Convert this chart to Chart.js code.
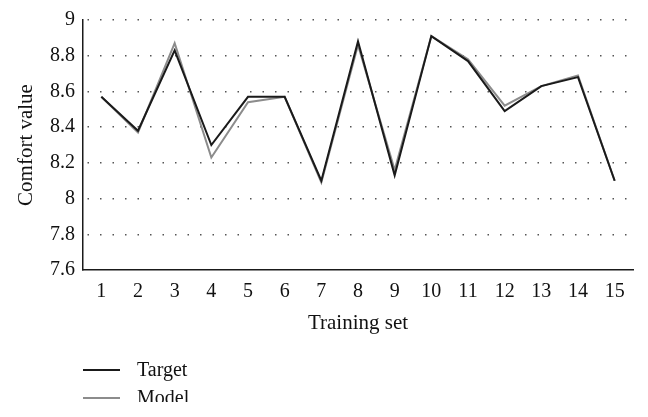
<!DOCTYPE html>
<html>
<head>
<meta charset="utf-8">
<script src="https://cdn.jsdelivr.net/npm/chart.js@4/dist/chart.umd.min.js"></script>
<style>
  html, body { margin: 0; padding: 0; background: #fff; }
  #wrap { width: 648px; height: 417px; position: relative; background: #fff; }
  canvas { display: block; }
</style>
</head>
<body>
<div id="wrap"><canvas id="c" width="648" height="402"></canvas></div>
<script>
const categories = ['1','2','3','4','5','6','7','8','9','10','11','12','13','14','15'];
const targetValues = [8.57, 8.38, 8.83, 8.30, 8.57, 8.57, 8.10, 8.88, 8.13, 8.91, 8.77, 8.49, 8.63, 8.68, 8.10];
const modelValues  = [8.57, 8.37, 8.87, 8.23, 8.54, 8.57, 8.09, 8.86, 8.16, 8.91, 8.78, 8.52, 8.63, 8.69, 8.10];
const yTickValues = [7.6, 7.8, 8, 8.2, 8.4, 8.6, 8.8, 9];
const seriesNames = ['Target', 'Model'];
const seriesColors = ['#1a1a1a', '#8c8c8c'];

const FONT = "'Liberation Serif', 'Times New Roman', serif";

const legendPlugin = {
  id: 'stackedLegend',
  afterDraw(chart) {
    const ctx = chart.ctx;
    const area = chart.chartArea;
    ctx.save();
    ctx.font = '20px ' + FONT;
    ctx.textBaseline = 'middle';
    ctx.textAlign = 'left';
    chart.data.datasets.forEach((ds, i) => {
      const y = area.bottom + 100 + i * 28;
      ctx.strokeStyle = ds.borderColor;
      ctx.lineWidth = 2;
      ctx.beginPath();
      ctx.moveTo(area.left, y);
      ctx.lineTo(area.left + 37, y);
      ctx.stroke();
      ctx.fillStyle = '#111';
      ctx.fillText(ds.label, area.left + 54, y + 1);
    });
    ctx.restore();
  }
};

new Chart(document.getElementById('c'), {
  type: 'line',
  data: {
    labels: categories,
    datasets: [
      { label: seriesNames[0], data: targetValues, borderColor: seriesColors[0], borderWidth: 2, pointRadius: 0, tension: 0, fill: false },
      { label: seriesNames[1], data: modelValues, borderColor: seriesColors[1], borderWidth: 2, pointRadius: 0, tension: 0, fill: false }
    ]
  },
  options: {
    responsive: false,
    animation: false,
    devicePixelRatio: 1,
    layout: { padding: { left: 0, right: 15, top: 20, bottom: 62 } },
    plugins: { legend: { display: false }, tooltip: { enabled: false } },
    scales: {
      x: {
        offset: true,
        grid: { display: false, drawTicks: false },
        border: { display: true, color: '#1a1a1a', width: 1.5 },
        ticks: { color: '#111', font: { family: FONT, size: 20 }, padding: 10, maxRotation: 0, autoSkip: false },
        title: { display: true, text: 'Training set', color: '#111', font: { family: FONT, size: 21 }, padding: { top: 0, bottom: 4 } },
        afterFit(scale) { scale.height = 70; }
      },
      y: {
        min: 7.6, max: 9,
        afterBuildTicks(scale) { scale.ticks = yTickValues.map(v => ({ value: v })); },
        grid: {
          drawTicks: false,
          color: (c) => (c.tick && c.tick.value === 7.6) ? 'rgba(0,0,0,0)' : '#555',
          lineWidth: 1.5
        },
        border: { display: true, color: '#1a1a1a', width: 1.5, dash: [1.5, 11], dashOffset: -4 },
        ticks: {
          color: '#111', font: { family: FONT, size: 20 }, padding: 8,
          callback: (v) => String(Math.round(v * 10) / 10)
        },
        title: { display: true, text: 'Comfort value', color: '#111', font: { family: FONT, size: 21 }, padding: { top: 14, bottom: 0 } },
        afterFit(scale) { scale.width = 83; }
      }
    }
  },
  plugins: [legendPlugin]
});
</script>
</body>
</html>
